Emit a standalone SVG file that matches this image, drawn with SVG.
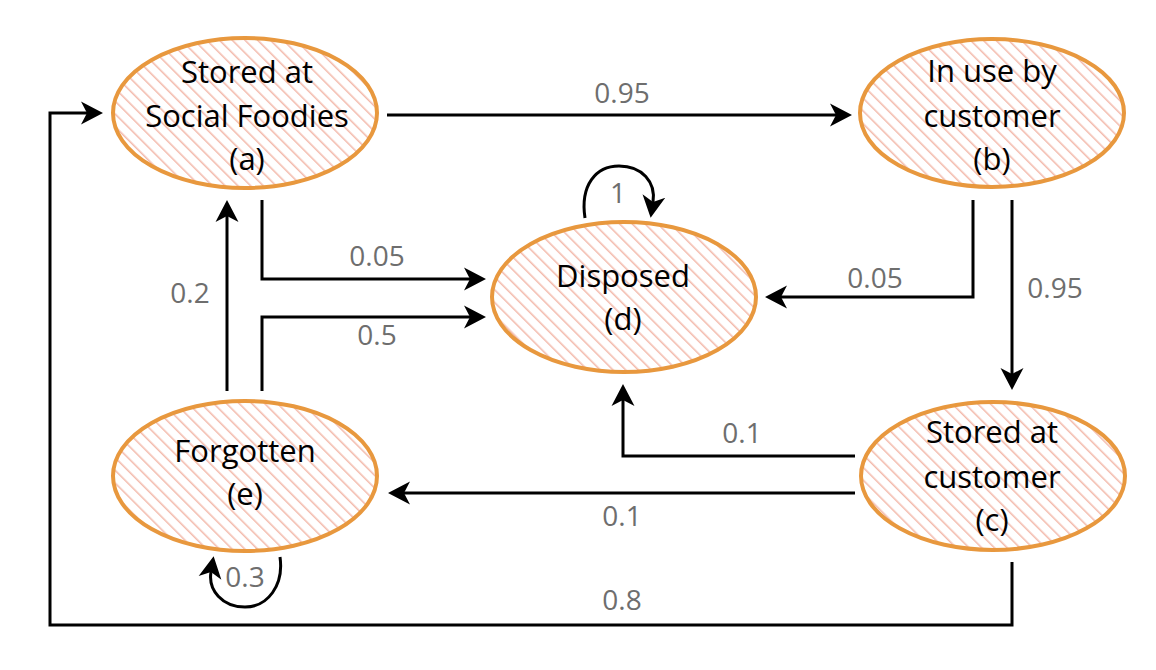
<svg xmlns="http://www.w3.org/2000/svg" width="1156" height="670" viewBox="0 0 1156 670">
<defs>
<pattern id="hatch" patternUnits="userSpaceOnUse" width="9" height="9" patternTransform="rotate(-45)">
<rect width="9" height="9" fill="#ffffff"/>
<line x1="0.8" y1="0" x2="0.8" y2="9" stroke="#f2b3a3" stroke-width="1.4"/>
</pattern>
<marker id="arr" markerUnits="userSpaceOnUse" markerWidth="24" markerHeight="26" viewBox="0 -13 24 26" refX="6" refY="0" orient="auto">
<path d="M0,-11.5 L22,0 L0,11.5 L6,0 Z" fill="#000"/>
</marker>
<style>
.node{fill:url(#hatch);stroke:#e8983e;stroke-width:4}
.nt{font-family:"Open Sans","Noto Sans","DejaVu Sans",sans-serif;font-size:31px;fill:#000;text-anchor:middle}
.el{font-family:"Open Sans","Noto Sans","DejaVu Sans",sans-serif;font-size:28px;fill:#6e6e6e;text-anchor:middle}
.c{fill:none;stroke:#000;stroke-width:3;marker-end:url(#arr)}
</style>
</defs>
<rect width="1156" height="670" fill="#ffffff"/>
<g id="connectors">
<path class="c" d="M387,115 L836,115"/>
<path class="c" d="M262,200 L262,279 L470,279"/>
<path class="c" d="M262,391 L262,317 L470,317"/>
<path class="c" d="M227,391 L227,216"/>
<path class="c" d="M973,200 L973,297 L781,297"/>
<path class="c" d="M1012,200 L1012,374"/>
<path class="c" d="M855,456 L623,456 L623,400"/>
<path class="c" d="M855,493 L404,493"/>
<path class="c" d="M1012,562 L1012,625 L50,625 L50,113 L87,113"/>
<path class="c" d="M585,218 C580,185 596,166 619,166 C642,166 656,182 653,202"/>
<path class="c" d="M280,557 C284,585 268,607 245,607 C222,607 208,590 211,572"/>
<text class="el" x="622" y="103">0.95</text>
<text class="el" x="377" y="266">0.05</text>
<text class="el" x="377" y="345">0.5</text>
<text class="el" x="190" y="303">0.2</text>
<text class="el" x="875" y="288">0.05</text>
<text class="el" x="1055" y="298">0.95</text>
<text class="el" x="742" y="443">0.1</text>
<text class="el" x="622" y="526">0.1</text>
<text class="el" x="622" y="610">0.8</text>
<text class="el" x="618" y="203">1</text>
<text class="el" x="245" y="587">0.3</text>
</g>
<g id="node-a">
<ellipse class="node" cx="245" cy="113" rx="132" ry="75"/>
<text class="nt" x="247" y="83">Stored at</text>
<text class="nt" x="247" y="127">Social Foodies</text>
<text class="nt" x="247" y="170">(a)</text>
</g>
<g id="node-b">
<ellipse class="node" cx="992" cy="113" rx="132" ry="74"/>
<text class="nt" x="992" y="82">In use by</text>
<text class="nt" x="992" y="127">customer</text>
<text class="nt" x="992" y="170">(b)</text>
</g>
<g id="node-c">
<ellipse class="node" cx="993" cy="476" rx="132" ry="74"/>
<text class="nt" x="992" y="443">Stored at</text>
<text class="nt" x="992" y="488">customer</text>
<text class="nt" x="992" y="531">(c)</text>
</g>
<g id="node-d">
<ellipse class="node" cx="624" cy="297" rx="132" ry="75"/>
<text class="nt" x="623" y="287">Disposed</text>
<text class="nt" x="623" y="330">(d)</text>
</g>
<g id="node-e">
<ellipse class="node" cx="245" cy="476" rx="132" ry="75"/>
<text class="nt" x="245" y="462">Forgotten</text>
<text class="nt" x="245" y="505">(e)</text>
</g>
</svg>
